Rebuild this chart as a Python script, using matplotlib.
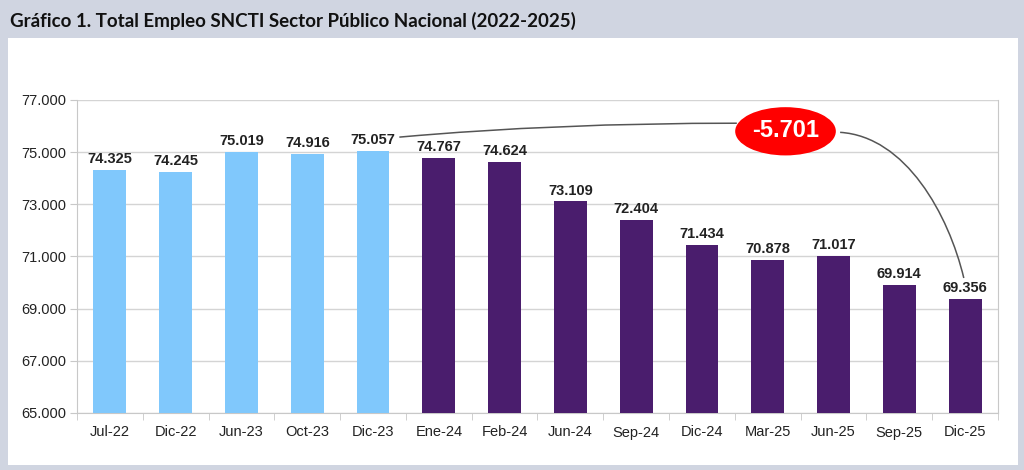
import matplotlib
matplotlib.use("Agg")
import matplotlib.pyplot as plt
from matplotlib.patches import Rectangle, Ellipse, PathPatch
from matplotlib.path import Path
from matplotlib.ticker import FuncFormatter

categories = ["Jul-22", "Dic-22", "Jun-23", "Oct-23", "Dic-23", "Ene-24", "Feb-24",
              "Jun-24", "Sep-24", "Dic-24", "Mar-25", "Jun-25", "Sep-25", "Dic-25"]
values = [74325, 74245, 75019, 74916, 75057, 74767, 74624,
          73109, 72404, 71434, 70878, 71017, 69914, 69356]
n_light = 5
yticks = [65000, 67000, 69000, 71000, 73000, 75000, 77000]
title = "Gráfico 1. Total Empleo SNCTI Sector Público Nacional (2022-2025)"
diff_label = "-5.701"

LIGHT = "#80c8fc"
DARK = "#4a1d6d"

def fmt(v):
    return f"{int(round(v)):,}".replace(",", ".")

W, H = 1024, 470
fig = plt.figure(figsize=(W / 100, H / 100), dpi=100)
fig.patch.set_facecolor("#d0d5e1")

# white panel
fig.patches.append(Rectangle((8 / W, 1 - 465 / H), (1018 - 8) / W, (465 - 38) / H,
                             transform=fig.transFigure, facecolor="white",
                             edgecolor="none", zorder=-10))
fig.text(10 / W, 1 - 21 / H, title, fontsize=13.5, fontweight="bold",
         family=["Lato", "DejaVu Sans"], color="#111111", va="center", ha="left")

ax = fig.add_axes([77 / W, 1 - 413 / H, (998 - 77) / W, (413 - 100) / H])
ax.set_zorder(5)
ax.set_facecolor("white")
x = list(range(len(categories)))
colors = [LIGHT if i < n_light else DARK for i in x]
ax.bar(x, values, width=0.5, color=colors, zorder=3)
ax.set_xlim(-0.5, len(categories) - 0.5)
ax.set_ylim(yticks[0], yticks[-1])
ax.set_yticks(yticks)
ax.yaxis.set_major_formatter(FuncFormatter(lambda v, p: fmt(v)))
ax.set_xticks(x)
ax.set_xticklabels(categories)
ax.set_xticks([i - 0.5 for i in range(len(categories) + 1)], minor=True)
ax.tick_params(axis="x", which="major", length=0, pad=9)
ax.tick_params(axis="x", which="minor", length=5, color="#c8c8c8")
ax.tick_params(axis="y", length=5, color="#c8c8c8", pad=3)
for lab in ax.get_xticklabels() + ax.get_yticklabels():
    lab.set_family(["Liberation Sans", "DejaVu Sans"])
    lab.set_fontsize(10.5)
    lab.set_color("#222222")
ax.grid(axis="y", color="#d4d4d4", linewidth=1, zorder=0)
for s in ["left", "bottom", "right"]:
    ax.spines[s].set_color("#c8c8c8")
ax.spines["top"].set_visible(False)

for i, v in enumerate(values):
    ax.text(i, v + 150, fmt(v), ha="center", va="bottom", fontsize=10.5,
            fontweight="bold", family=["Liberation Sans", "DejaVu Sans"],
            color="#222222", zorder=4)

# annotation: ellipse and connectors
ex, ey = 10.27, 75800
ax.add_patch(Ellipse((ex, ey), 1.53, 1850, facecolor="#ff0000", edgecolor="none",
                     zorder=6, clip_on=False))
ax.text(ex, ey + 30, diff_label, ha="center", va="center", color="white", fontsize=17,
        fontweight="bold", family=["Liberation Sans", "DejaVu Sans"], zorder=7)

i0 = n_light - 1
p0 = (i0 + 0.40, values[i0] + 520)
p_end_left = (ex - 0.74, ey + 310)
left = Path([p0, (6.8, 76120), p_end_left], [Path.MOVETO, Path.CURVE3, Path.CURVE3])
ax.add_patch(PathPatch(left, facecolor="none", edgecolor="#555555", lw=1.1,
                       zorder=5, clip_on=False))
i1 = len(values) - 1
p_start_right = (ex + 0.83, ey - 40)
p3 = (i1 - 0.02, values[i1] + 820)
right = Path([p_start_right, (12.1, 75600), (12.75, 72600), p3],
             [Path.MOVETO, Path.CURVE4, Path.CURVE4, Path.CURVE4])
ax.add_patch(PathPatch(right, facecolor="none", edgecolor="#555555", lw=1.1,
                       zorder=5, clip_on=False))

fig.savefig("out.png", dpi=100, facecolor=fig.get_facecolor())
